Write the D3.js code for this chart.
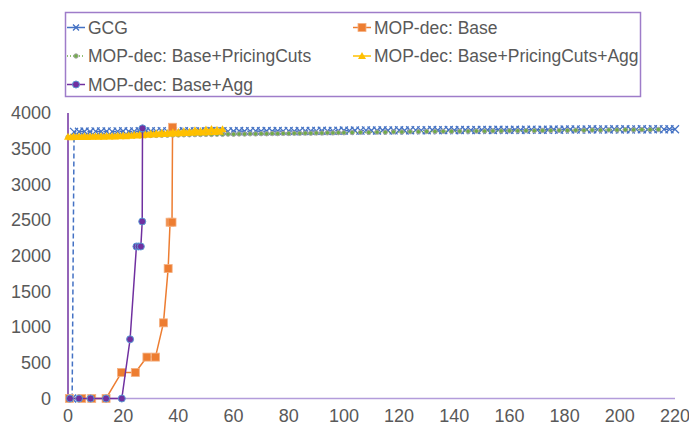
<!DOCTYPE html>
<html>
<head>
<meta charset="utf-8">
<script src="https://cdn.jsdelivr.net/npm/d3@7"></script>
<style>
  body { margin: 0; background: #fff; }
  text { font-family: "Liberation Sans", Arial, sans-serif; fill: #595959; }
</style>
</head>
<body>
<script>
let x_ticks = [0, 20, 40, 60, 80, 100, 120, 140, 160, 180, 200, 220];
let y_ticks = [0, 500, 1000, 1500, 2000, 2500, 3000, 3500, 4000];

let gcg_x = [1.5, 2.2, 4, 6, 8, 10, 12, 14, 16, 18, 20, 22, 24, 26, 28, 30, 32, 34, 36, 38, 40, 42, 44, 46, 48, 50,
  52, 54, 56, 58, 60, 62, 64, 66, 68, 70, 72, 74, 76, 78, 80, 82, 84, 86, 88, 90, 92, 94, 96, 98, 100,
  102, 104, 106, 108, 110, 112, 114, 116, 118, 120, 122, 124, 126, 128, 130, 132, 134, 136, 138, 140,
  142, 144, 146, 148, 150, 152, 154, 156, 158, 160, 162, 164, 166, 168, 170, 172, 174, 176, 178, 180,
  182, 184, 186, 188, 190, 192, 194, 196, 198, 200, 202, 204, 206, 208, 210, 212, 214, 216, 218, 220];
let gcg_y = [0, 3736, 3738, 3741, 3737, 3742, 3740, 3743, 3739, 3742, 3744, 3740, 3743, 3745, 3741, 3744, 3742, 3746,
  3743, 3745, 3741, 3744, 3746, 3742, 3745, 3743, 3747, 3744, 3746, 3742, 3745, 3747, 3744, 3746, 3748, 3745,
  3747, 3744, 3748, 3746, 3749, 3745, 3748, 3750, 3747, 3749, 3751, 3748, 3750, 3752,
  3754, 3751, 3756, 3753, 3757, 3754, 3756, 3758, 3755, 3757, 3759, 3756, 3758, 3760, 3757, 3759, 3761, 3758,
  3760, 3762, 3759, 3761, 3763, 3760, 3762,
  3764, 3761, 3763, 3765, 3762, 3764, 3766, 3763, 3765, 3767, 3764, 3766, 3765,
  3769, 3766, 3770, 3768, 3771, 3767, 3770, 3772, 3769, 3771, 3768, 3772, 3770, 3773, 3769, 3771, 3773, 3770,
  3772, 3774, 3771, 3773, 3772];

let base_x = [0.5, 5, 8.6, 13.8, 19.4, 24.4, 28.6, 31.7, 34.6, 36.3, 37.0, 37.7, 37.9];
let base_y = [0, 0, 0, 0, 365, 365, 580, 580, 1060, 1820, 2470, 2470, 3800];

let cuts_x = [0, 2, 4, 6, 8, 10, 12, 14, 16, 18, 20, 22, 24, 26, 28, 30, 32, 34, 36, 38, 40, 42, 44, 46, 48, 50,
  52, 54, 56, 58, 60, 62, 64, 66, 68, 70, 72, 74, 76, 78, 80, 82, 84, 86, 88, 90, 92, 94, 96, 98, 100,
  103, 106, 109, 112, 115, 118, 121, 124, 127, 130, 133, 136, 139, 142, 145, 148, 151, 154, 157, 160,
  163, 166, 169, 172, 175, 178, 181, 184, 187, 190, 193, 196, 199, 202, 205, 208, 211, 214];
let cuts_y = [3662, 3665, 3664, 3668, 3667, 3671, 3670, 3673, 3674, 3676, 3677, 3679, 3680, 3682, 3683, 3685,
  3686, 3688, 3689, 3691, 3692, 3694, 3695, 3697,
  3698, 3700, 3699, 3702, 3701, 3704, 3703, 3706, 3705, 3708, 3707, 3710, 3709, 3712, 3711, 3714, 3713, 3716,
  3715, 3718, 3717, 3720, 3719, 3722, 3721, 3724, 3723,
  3726, 3729, 3728, 3732, 3731, 3735, 3734, 3738, 3737, 3741, 3740, 3743, 3742, 3745, 3744, 3747, 3746, 3749,
  3748, 3751, 3750, 3753, 3752, 3755, 3754, 3757, 3756, 3759, 3758, 3761, 3760, 3763, 3762, 3765, 3764, 3767,
  3766, 3769];

let agg_cuts_x = [0, 1, 2, 3, 4, 5, 6, 7, 8, 9, 10, 11, 12, 13, 14, 15, 16, 17, 18, 19, 20, 21, 22, 23, 24, 25,
  26, 27, 28, 29, 30, 31, 32, 33, 34, 35, 36, 37, 38, 39, 40, 41, 42, 43, 44, 45, 46, 47, 48, 49, 50,
  51, 52, 53, 54, 55, 56];
let agg_cuts_y = [3668, 3660, 3672, 3664, 3670, 3662, 3674, 3665, 3671, 3667, 3676, 3668, 3673, 3669, 3678,
  3671, 3676, 3672, 3681, 3674, 3684, 3676, 3690, 3680, 3694, 3686, 3700, 3690, 3706, 3694, 3712, 3698,
  3715, 3702, 3722, 3706, 3720, 3709, 3730, 3712, 3735, 3716, 3745, 3720, 3738, 3722, 3760, 3726, 3748,
  3728, 3770, 3732, 3775, 3735, 3765, 3738, 3772];

let agg_x = [0.7, 4, 8.2, 13.8, 19.5, 22.5, 24.8, 25.6, 26.4, 26.9, 27.0];
let agg_y = [0, 0, 0, 0, 0, 830, 2130, 2130, 2130, 2480, 3785];

let series = [
  { name: "GCG", xs: gcg_x, ys: gcg_y, color: "#4472c4", dash: "5,3", width: 1.5, marker: "cross" },
  { name: "MOP-dec: Base", xs: base_x, ys: base_y, color: "#ed7d31", dash: null, width: 1.5, marker: "square" },
  { name: "MOP-dec: Base+PricingCuts", xs: cuts_x, ys: cuts_y, color: "#70ad47", dash: "1,2", width: 1.5, marker: "dot" },
  { name: "MOP-dec: Base+PricingCuts+Agg", xs: agg_cuts_x, ys: agg_cuts_y, color: "#ffc000", dash: null, width: 1.5, marker: "triangle" },
  { name: "MOP-dec: Base+Agg", xs: agg_x, ys: agg_y, color: "#7030a0", dash: null, width: 1.5, marker: "circle" }
];

let width = 689, height = 432;

let svg = d3.select("body")
  .append("svg")
    .attr("width", width)
    .attr("height", height);

let x = d3.scaleLinear().domain([0, 220]).range([68, 675]);
let y = d3.scaleLinear().domain([0, 4000]).range([398.5, 113]);

svg.append("g").selectAll("text")
  .data(y_ticks)
  .join("text")
    .attr("x", 51)
    .attr("y", d => y(d))
    .attr("dy", "0.35em")
    .attr("text-anchor", "end")
    .attr("font-size", 18)
    .text(d => d);

svg.append("g").selectAll("text")
  .data(x_ticks)
  .join("text")
    .attr("x", d => x(d))
    .attr("y", 416)
    .attr("dy", "0.35em")
    .attr("text-anchor", "middle")
    .attr("font-size", 18)
    .text(d => d);

svg.append("line")
  .attr("x1", x(0)).attr("x2", x(220))
  .attr("y1", y(0)).attr("y2", y(0))
  .attr("stroke", "#b39ddb").attr("stroke-width", 1.5);
svg.append("line")
  .attr("x1", x(0)).attr("x2", x(0))
  .attr("y1", y(0)).attr("y2", y(4000))
  .attr("stroke", "#7030a0").attr("stroke-width", 1.5);

function draw_marker(g, s, cx, cy, big) {
  if (s.marker == "cross") {
    let r = big ? 4 : 3;
    g.append("path")
      .attr("d", `M${cx-r},${cy-r}L${cx+r},${cy+r}M${cx-r},${cy+r}L${cx+r},${cy-r}`)
      .attr("stroke", s.color).attr("stroke-width", 1.3).attr("fill", "none");
  } else if (s.marker == "square") {
    g.append("rect")
      .attr("x", cx-4).attr("y", cy-4).attr("width", 8).attr("height", 8)
      .attr("fill", s.color).attr("stroke", "#f4b183").attr("stroke-width", 0.8);
  } else if (s.marker == "dot") {
    g.append("circle")
      .attr("cx", cx).attr("cy", cy).attr("r", 2.2)
      .attr("fill", s.color).attr("stroke", "#a5a5a5").attr("stroke-width", 1);
  } else if (s.marker == "triangle") {
    g.append("path")
      .attr("d", `M${cx},${cy-4}L${cx+4},${cy+3}L${cx-4},${cy+3}Z`)
      .attr("fill", s.color);
  } else {
    g.append("circle")
      .attr("cx", cx).attr("cy", cy).attr("r", 3.5)
      .attr("fill", s.color).attr("stroke", "#5b9bd5").attr("stroke-width", 1);
  }
}

let line = d3.line().x(d => x(d[0])).y(d => y(d[1]));

series.forEach(s => {
  let pts = s.xs.map((v, i) => [v, s.ys[i]]);
  let g = svg.append("g");
  g.append("path")
    .attr("d", line(pts))
    .attr("fill", "none")
    .attr("stroke", s.color)
    .attr("stroke-width", s.width)
    .attr("stroke-dasharray", s.dash);
  pts.forEach(p => draw_marker(g, s, x(p[0]), y(p[1]), true));
});

// legend
svg.append("rect")
  .attr("x", 65.5).attr("y", 12.5).attr("width", 575).attr("height", 84)
  .attr("fill", "none").attr("stroke", "#9e7cc9").attr("stroke-width", 1.5);

let legend_pos = [[76, 27.5], [362, 27.5], [76, 56], [362, 56], [76, 84.5]];
series.forEach((s, i) => {
  let [lx, ly] = legend_pos[i];
  let g = svg.append("g");
  g.append("line")
    .attr("x1", lx-9).attr("x2", lx+9).attr("y1", ly).attr("y2", ly)
    .attr("stroke", s.color).attr("stroke-width", 1.5)
    .attr("stroke-dasharray", s.marker == "dot" ? "1,2" : null);
  draw_marker(g, s, lx, ly, false);
  g.append("text")
    .attr("x", lx+12).attr("y", ly)
    .attr("dy", "0.35em")
    .attr("font-size", 17.5)
    .text(s.name);
});
</script>
</body>
</html>
